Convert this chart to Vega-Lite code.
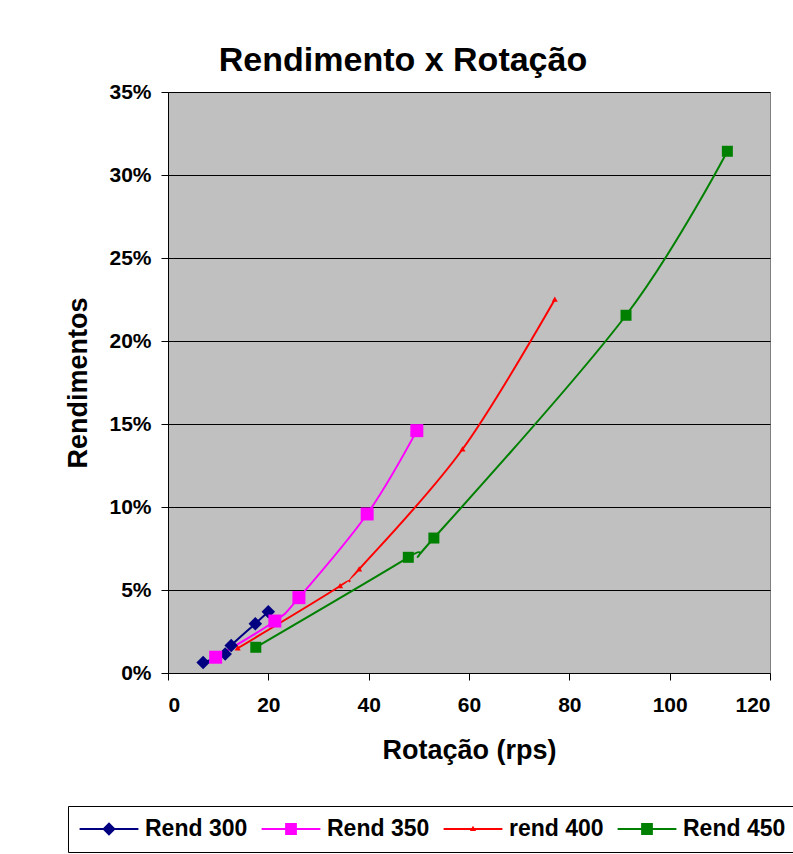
{
  "$schema": "https://vega.github.io/schema/vega-lite/v6.json",
  "autosize": "none",
  "width": 602,
  "height": 581,
  "padding": {"left": 168, "top": 92, "right": 23, "bottom": 181},
  "background": "white",
  "title": {
    "text": "Rendimento x Rotação",
    "font": "Liberation Sans",
    "fontSize": 34,
    "fontWeight": "bold",
    "color": "black",
    "anchor": "middle",
    "frame": "group",
    "dx": -66,
    "dy": 36,
    "baseline": "alphabetic",
    "offset": 12
  },
  "data": {
    "values": [
      {"series": "Rend 300", "rps": 7.0, "rend": 0.0064},
      {"series": "Rend 300", "rps": 11.4, "rend": 0.0114},
      {"series": "Rend 300", "rps": 12.6, "rend": 0.0166},
      {"series": "Rend 300", "rps": 17.4, "rend": 0.0297},
      {"series": "Rend 300", "rps": 20.0, "rend": 0.0369},
      {"series": "Rend 350", "rps": 9.5, "rend": 0.0095},
      {"series": "Rend 350", "rps": 21.3, "rend": 0.0313},
      {"series": "Rend 350", "rps": 26.1, "rend": 0.0454},
      {"series": "Rend 350", "rps": 39.7, "rend": 0.0958},
      {"series": "Rend 350", "rps": 49.6, "rend": 0.146},
      {"series": "rend 400", "rps": 13.9, "rend": 0.0149},
      {"series": "rend 400", "rps": 34.3, "rend": 0.0524},
      {"series": "rend 400", "rps": 38.1, "rend": 0.0625},
      {"series": "rend 400", "rps": 58.7, "rend": 0.1348},
      {"series": "rend 400", "rps": 77.1, "rend": 0.225},
      {"series": "Rend 450", "rps": 17.5, "rend": 0.0155},
      {"series": "Rend 450", "rps": 47.9, "rend": 0.0697},
      {"series": "Rend 450", "rps": 53.0, "rend": 0.0813},
      {"series": "Rend 450", "rps": 91.3, "rend": 0.2155},
      {"series": "Rend 450", "rps": 111.5, "rend": 0.3143}
    ]
  },
  "encoding": {
    "x": {
      "field": "rps", "type": "quantitative",
      "scale": {"domain": [0, 120], "nice": false, "zero": true},
      "axis": {
        "title": "Rotação (rps)",
        "values": [0, 20, 40, 60, 80, 100, 120],
        "grid": false,
        "labelPadding": 14,
        "titlePadding": 22
      }
    },
    "y": {
      "field": "rend", "type": "quantitative",
      "scale": {"domain": [0, 0.35], "nice": false},
      "axis": {
        "title": "Rendimentos",
        "values": [0, 0.05, 0.1, 0.15, 0.2, 0.25, 0.3, 0.35],
        "format": ".0%",
        "grid": true,
        "labelPadding": 10,
        "titlePadding": 16
      }
    },
    "color": {
      "field": "series", "type": "nominal", "legend": null,
      "scale": {
        "domain": ["Rend 300", "Rend 350", "rend 400", "Rend 450"],
        "range": ["#000080", "#FF00FF", "#FF0000", "#008000"]
      }
    }
  },
  "layer": [
    {
      "transform": [{"filter": "datum.rps < 0"}],
      "mark": {"type": "point", "filled": true, "opacity": 1, "strokeWidth": 0},
      "encoding": {
        "color": {
          "field": "series", "type": "nominal",
          "legend": {
            "orient": "none",
            "legendX": -100,
            "legendY": 714,
            "direction": "horizontal",
            "title": null,
            "padding": 11,
            "strokeColor": "black",
            "fillColor": "white",
            "symbolSize": 576,
            "symbolStrokeWidth": 0,
            "symbolOffset": 18,
            "labelOffset": 24,
            "columnPadding": 13,
            "labelFont": "Liberation Sans",
            "labelFontSize": 23,
            "labelFontWeight": "bold",
            "labelColor": "black",
            "labelLimit": 300
          }
        },
        "shape": {
          "field": "series", "type": "nominal",
          "scale": {
            "domain": ["Rend 300", "Rend 350", "rend 400", "Rend 450"],
            "range": [
              "M-2.45,-0.085H2.45V0.085H-2.45Z M0,-0.56L0.56,0L0,0.56L-0.56,0Z",
              "M-2.45,-0.085H2.45V0.085H-2.45Z M-0.49,-0.49H0.49V0.49H-0.49Z",
              "M-2.45,-0.085H2.45V0.085H-2.45Z M0,-0.27L0.26,0.17L-0.26,0.17Z",
              "M-2.45,-0.085H2.45V0.085H-2.45Z M-0.49,-0.49H0.49V0.49H-0.49Z"
            ]
          },
          "legend": {
            "orient": "none",
            "legendX": -100,
            "legendY": 714,
            "direction": "horizontal",
            "title": null,
            "padding": 11,
            "strokeColor": "black",
            "fillColor": "white",
            "symbolSize": 576,
            "symbolStrokeWidth": 0,
            "symbolOffset": 18,
            "labelOffset": 24,
            "columnPadding": 13,
            "labelFont": "Liberation Sans",
            "labelFontSize": 23,
            "labelFontWeight": "bold",
            "labelColor": "black",
            "labelLimit": 300
          }
        }
      }
    },
    {
      "mark": {"type": "line", "interpolate": "cardinal", "tension": 0, "strokeWidth": 2}
    },
    {
      "transform": [{"filter": "datum.series === 'Rend 300'"}],
      "mark": {"type": "point", "filled": true, "opacity": 1, "size": 100, "strokeWidth": 0,
               "shape": "M0,-1.35L1.35,0L0,1.35L-1.35,0Z"}
    },
    {
      "transform": [{"filter": "datum.series === 'Rend 350'"}],
      "mark": {"type": "point", "filled": true, "opacity": 1, "size": 100, "strokeWidth": 0,
               "shape": "M-1.3,-1.3H1.3V1.3H-1.3Z"}
    },
    {
      "transform": [{"filter": "datum.series === 'rend 400'"}],
      "mark": {"type": "point", "filled": true, "opacity": 1, "size": 100, "strokeWidth": 0,
               "shape": "M0,-0.6L0.6,0.45L-0.6,0.45Z"}
    },
    {
      "transform": [{"filter": "datum.series === 'Rend 450'"}],
      "mark": {"type": "point", "filled": true, "opacity": 1, "size": 100, "strokeWidth": 0,
               "shape": "M-1.1,-1.1H1.1V1.1H-1.1Z"}
    }
  ],
  "config": {
    "view": {"fill": "#C0C0C0", "stroke": "#808080", "strokeWidth": 1},
    "axis": {
      "domainColor": "black",
      "domainWidth": 1,
      "tickColor": "black",
      "tickSize": 7,
      "tickWidth": 1,
      "gridColor": "black",
      "gridWidth": 1,
      "gridOpacity": 1,
      "labelFont": "Liberation Sans",
      "labelFontSize": 21,
      "labelFontWeight": "bold",
      "labelColor": "black",
      "titleFont": "Liberation Sans",
      "titleFontSize": 27,
      "titleFontWeight": "bold",
      "titleColor": "black"
    }
  }
}
